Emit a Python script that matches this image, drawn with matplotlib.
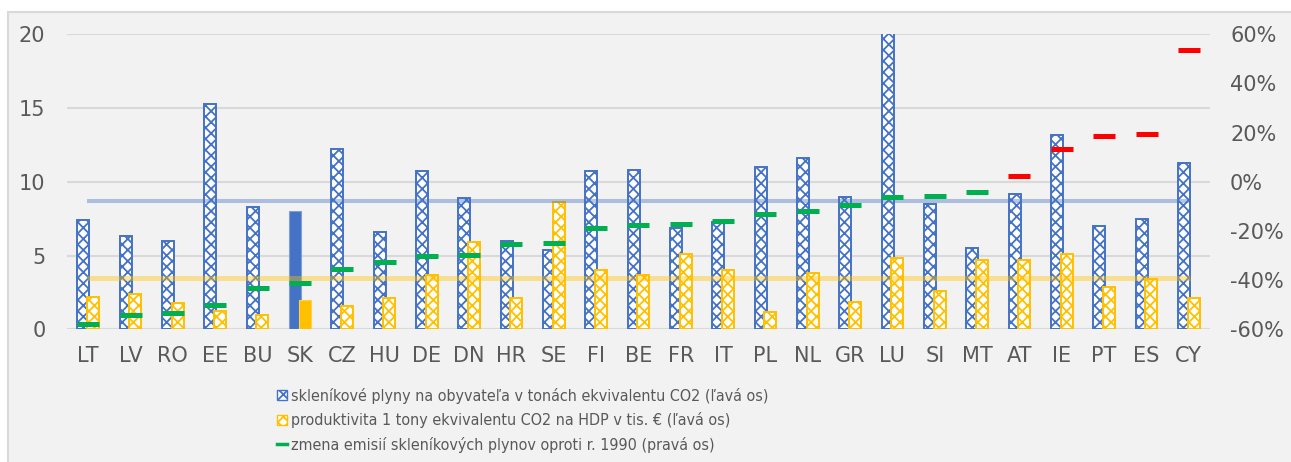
import matplotlib
matplotlib.use("Agg")
import matplotlib.pyplot as plt
from matplotlib.patches import Rectangle, Patch
from matplotlib.lines import Line2D
import numpy as np

countries = ["LT", "LV", "RO", "EE", "BU", "SK", "CZ", "HU", "DE", "DN", "HR", "SE", "FI", "BE",
             "FR", "IT", "PL", "NL", "GR", "LU", "SI", "MT", "AT", "IE", "PT", "ES", "CY"]
ghg_per_capita = [7.4, 6.3, 6.0, 15.3, 8.3, 8.0, 12.2, 6.6, 10.7, 8.9, 6.0, 5.4, 10.7, 10.8,
                  6.9, 7.3, 11.0, 11.6, 9.0, 20.5, 8.5, 5.5, 9.2, 13.2, 7.0, 7.5, 11.3]
productivity = [2.2, 2.4, 1.75, 1.25, 0.95, 2.0, 1.6, 2.1, 3.7, 5.9, 2.1, 8.6, 4.0, 3.7,
                5.1, 4.0, 1.2, 3.85, 1.85, 4.85, 2.6, 4.7, 4.7, 5.1, 2.85, 3.4, 2.15]
change_1990 = [-57.7, -54.0, -53.2, -50.0, -43.0, -41.0, -35.3, -32.5, -30.0, -29.6, -25.1, -24.7,
               -18.6, -17.4, -17.0, -15.8, -12.9, -11.7, -9.3, -6.0, -5.6, -4.0, 2.5, 13.5, 18.8,
               19.6, 53.8]
avg_ghg = 8.7
avg_productivity = 3.46
highlight = "SK"

legend_labels = ["skleníkové plyny na obyvateľa v tonách ekvivalentu CO2 (ľavá os)",
                 "produktivita 1 tony ekvivalentu CO2 na HDP v tis. € (ľavá os)",
                 "zmena emisií skleníkových plynov oproti r. 1990 (pravá os)"]

BLUE = "#4472C4"
YELLOW = "#FFC000"
GREEN = "#00B050"
RED = "#FF0000"
GRID = "#d9d9d9"
TXT = "#595959"
BG = "#f2f2f2"

plt.rcParams["hatch.linewidth"] = 1.3

W, H = 1291, 462
fig = plt.figure(figsize=(W / 100, H / 100), dpi=100, facecolor="white")
fig.patches.append(Rectangle((8 / W, -0.05), 1.1, 1 - 12 / H + 0.05, transform=fig.transFigure,
                             facecolor=BG, edgecolor=GRID, linewidth=1.5, zorder=-10))

left, right = 67 / W, 1210 / W
bottom, top = 1 - 329.3 / H, 1 - 34.3 / H
ax = fig.add_axes([left, bottom, right - left, top - bottom])
ax.set_facecolor("none")
ax2 = ax.twinx()
ax2.set_facecolor("none")

x = np.arange(len(countries))
bw = 0.28
off = 0.115
for i, c in enumerate(countries):
    if c == highlight:
        ax.bar(x[i] - off, ghg_per_capita[i], bw, color=BLUE, edgecolor="#7f9fd6", linewidth=0.8, zorder=3)
        ax.bar(x[i] + off, productivity[i], bw, color=YELLOW, edgecolor="#ffd04d", linewidth=0.8, zorder=3)
    else:
        ax.bar(x[i] - off, ghg_per_capita[i], bw, facecolor="white", edgecolor=BLUE, hatch="xxx",
               linewidth=1.4, zorder=3)
        ax.bar(x[i] + off, productivity[i], bw, facecolor="white", edgecolor=YELLOW, hatch="xxx",
               linewidth=1.4, zorder=3)

ax.plot([x[0] - 0.03, x[-1] + 0.03], [avg_ghg, avg_ghg], color=BLUE, alpha=0.4, lw=2.9,
        solid_capstyle="butt", zorder=4)
ax.plot([x[0] - 0.03, x[-1] + 0.03], [avg_productivity, avg_productivity], color=YELLOW, alpha=0.4,
        lw=3.6, solid_capstyle="butt", zorder=4)

ax.set_xlim(-0.5, len(countries) - 0.5)
ax.set_ylim(0, 20)
ax.set_yticks([0, 5, 10, 15, 20])
ax.grid(axis="y", color=GRID, lw=1.5, zorder=0)
ax.set_axisbelow(True)
for s in ax.spines.values():
    s.set_visible(False)
for s in ax2.spines.values():
    s.set_visible(False)
ax.set_xticks(x)
ax.set_xticklabels(countries)
ax.tick_params(axis="both", length=0, labelsize=15, colors=TXT)
ax.tick_params(axis="x", pad=12)
ax.tick_params(axis="y", pad=15.5)

ch = np.array(change_1990)
neg = ch < 0
ax2.plot(x[neg], ch[neg], linestyle="none", marker="_", markersize=16, markeredgewidth=3.6,
         color=GREEN, zorder=5)
ax2.plot(x[~neg], ch[~neg], linestyle="none", marker="_", markersize=16, markeredgewidth=3.6,
         color=RED, zorder=5)
ax2.set_ylim(-60, 60)
ax2.set_yticks([-60, -40, -20, 0, 20, 40, 60])
ax2.set_yticklabels([f"{v}%" for v in [-60, -40, -20, 0, 20, 40, 60]])
ax2.tick_params(axis="y", length=0, labelsize=15, colors=TXT, pad=14.4)

handles = [Patch(facecolor="white", edgecolor=BLUE, hatch="xxx", linewidth=1.0),
           Patch(facecolor="white", edgecolor=YELLOW, hatch="xxx", linewidth=1.0),
           Line2D([], [], color=GREEN, lw=2.5)]
leg = fig.legend(handles, legend_labels, loc="upper left", bbox_to_anchor=(277 / W, 1 - 388 / H),
                 frameon=False, handlelength=0.6, handleheight=0.6, handletextpad=0.25,
                 labelspacing=0.52, borderpad=0, borderaxespad=0,
                 prop={"family": "DejaVu Sans", "stretch": "condensed", "size": 11.5})
for t in leg.get_texts():
    t.set_color(TXT)

fig.savefig("out.png", dpi=100, facecolor="white")
